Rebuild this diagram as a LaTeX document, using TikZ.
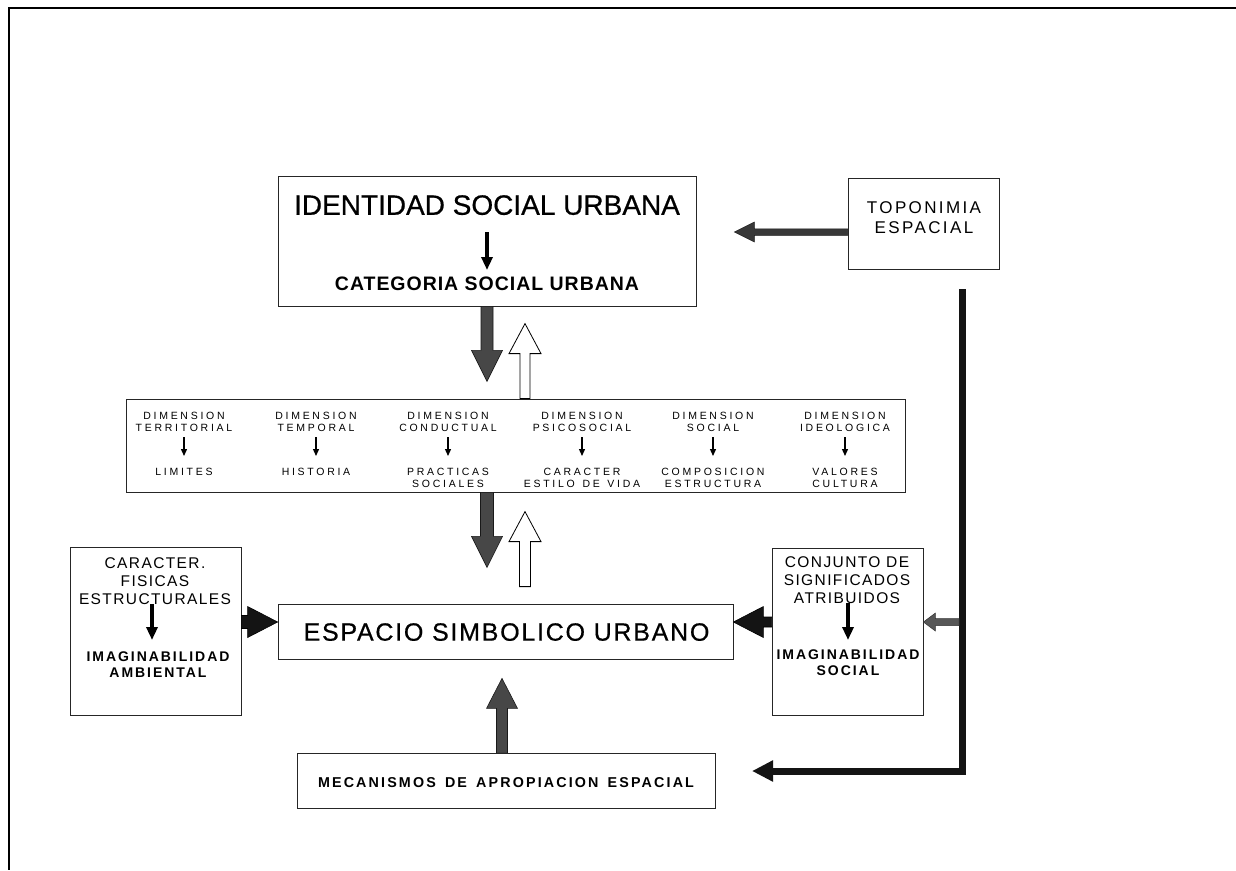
\documentclass[tikz,border=0pt]{standalone}
\usepackage{fontspec}
\setmainfont{Liberation Sans}
\newfontfamily\fIdent[FakeBold=0.6]{Liberation Sans}
\newfontfamily\fCat[LetterSpace=5]{Liberation Sans}
\newfontfamily\fTop[LetterSpace=14]{Liberation Sans}
\newfontfamily\fDim[LetterSpace=26,WordSpace=1.35]{Liberation Sans}
\newfontfamily\fSide[LetterSpace=9]{Liberation Sans}
\newfontfamily\fSideB[LetterSpace=14]{Liberation Sans}
\newfontfamily\fEsp[LetterSpace=7,FakeBold=0.6]{Liberation Sans}
\newfontfamily\fMec[LetterSpace=15,WordSpace=1.5]{Liberation Sans}
\usetikzlibrary{calc,arrows.meta}

% block arrow: [style]{from}{to}{shaft width}{head width}{head length}
\newcommand\blockarrow[6][]{%
  \path[#1] let \p1=#2, \p2=#3, \n1={atan2(\y2-\y1,\x2-\x1)}, \n2={veclen(\x2-\x1,\y2-\y1)} in
  [shift={(\p1)}, rotate=\n1]
  (0,{#4/2}) -- ({\n2-#6},{#4/2}) -- ({\n2-#6},{#5/2}) -- (\n2,0) -- ({\n2-#6},{-#5/2}) -- ({\n2-#6},{-#4/2}) -- (0,{-#4/2}) -- cycle;}

\begin{document}
\begin{tikzpicture}[x=1pt,y=-1pt,
  panel/.style={draw=black!85, line width=0.8pt, fill=white, inner sep=0pt},
  txt/.style={inner sep=0pt, align=center, anchor=north},
  dimtxt/.style={txt, font=\fDim\fontsize{10.5}{12}\selectfont},
  sidetxt/.style={txt, font=\fSide\fontsize{15.5}{18}\selectfont},
  sidetxtb/.style={txt, font=\fSideB\bfseries\fontsize{14}{16}\selectfont},
  toptxt/.style={txt, font=\fTop\fontsize{17}{20}\selectfont},
  smallarrow/.style={draw=black, line width=3.2pt, -{Triangle[width=11pt,length=13pt]}},
  tinyarrow/.style={draw=black, line width=1.3pt, -{Triangle[width=6pt,length=7pt]}},
  darkarr/.style={fill=black!72, draw=black!90, line width=0.6pt},
  blackarr/.style={fill=black!92, draw=black, line width=0.6pt},
  hollowarr/.style={fill=white, draw=black, line width=0.8pt},
  grayarr/.style={fill=black!66, draw=black!80, line width=0.5pt},
  topoarr/.style={fill=black!78, draw=black!90, line width=0.5pt},
  bigline/.style={draw=black!92, line width=7pt, -{Triangle[width=20pt,length=21pt]}},
  framelines/.style={draw=black, line width=2pt}
]
\useasboundingbox[fill=white] (0,0) rectangle (1236,870);

% frame
\draw[framelines] (1236,8) -- (9,8) -- (9,870);

% boxes
\node[panel, minimum width=418pt, minimum height=130pt] (id) at (487,241) {};
\node[panel, minimum width=151pt, minimum height=91pt] (topo) at (923.5,223.5) {};
\node[panel, minimum width=779pt, minimum height=93pt] (dims) at (515.5,445.5) {};
\node[panel, minimum width=455pt, minimum height=55pt] (esp) at (505.5,631.5) {};
\node[panel, minimum width=171pt, minimum height=168pt] (left) at (155.5,631) {};
\node[panel, minimum width=151pt, minimum height=167pt] (right) at (847.5,631.5) {};
\node[panel, minimum width=418pt, minimum height=55pt] (mec) at (506,780.5) {};

% texts
\node[txt, font=\fIdent\fontsize{28}{30}\selectfont] (idt) at (487,195) {IDENTIDAD SOCIAL URBANA};
\node[txt, font=\fCat\bfseries\fontsize{19.5}{22}\selectfont] (cat) at (487,277) {CATEGORIA SOCIAL URBANA};
\draw[smallarrow] ($(idt.south)+(0,17)$) -- ($(cat.north)+(0,-7)$);

\node[toptxt] (tt) at (924,201) {TOPONIMIA\\ESPACIAL};

\foreach \i/\cx/\ta/\tb in {1/184/{DIMENSION\\TERRITORIAL}/{LIMITES},
  2/316/{DIMENSION\\TEMPORAL}/{HISTORIA},
  3/448/{DIMENSION\\CONDUCTUAL}/{PRACTICAS\\SOCIALES},
  4/582/{DIMENSION\\PSICOSOCIAL}/{CARACTER\\ESTILO DE VIDA},
  5/713/{DIMENSION\\SOCIAL}/{COMPOSICION\\ESTRUCTURA},
  6/845/{DIMENSION\\IDEOLOGICA}/{VALORES\\CULTURA}}{
  \node[dimtxt] (dt\i) at (\cx,411.5) {\ta};
  \node[dimtxt] (db\i) at (\cx,467.5) {\tb};
  \draw[tinyarrow] ($(dt\i.south)+(0,6)$) -- ($(db\i.north)+(0,-11.5)$);
}

\node[txt, font=\fEsp\fontsize{25}{28}\selectfont] (et) at (506.5,623) {ESPACIO SIMBOLICO URBANO};

\node[sidetxt] (lt) at (155,557.5) {CARACTER.\\FISICAS\\ESTRUCTURALES};
\node[sidetxtb] (lb) at (158,652) {IMAGINABILIDAD\\AMBIENTAL};
\draw[smallarrow] ($(lt.south)+(-3,-1)$) -- ($(lb.north)+(-6,-12)$);

\node[sidetxt] (rt) at (847,556.5) {CONJUNTO DE\\SIGNIFICADOS\\ATRIBUIDOS};
\node[sidetxtb] (rb) at (848,650) {IMAGINABILIDAD\\SOCIAL};
\draw[smallarrow] ($(rt.south)+(1,-1)$) -- ($(rb.north)+(0,-10)$);

\node[txt, font=\fMec\bfseries\fontsize{14.3}{16}\selectfont] (mt) at (506,777) {MECANISMOS DE APROPIACION ESPACIAL};

% connectors
\blockarrow[topoarr]{(topo.west |- 0,232)}{($(id.east |- 0,232)+(38,0)$)}{6.5}{20}{20}
\blockarrow[darkarr]{(id.south)}{($(id.south)+(0,75)$)}{12}{31}{31}
\blockarrow[hollowarr]{($(dims.north)+(9.5,0)$)}{($(dims.north)+(9.5,-75)$)}{10}{32}{30}
\blockarrow[darkarr]{($(dims.south)+(-28.5,0)$)}{($(dims.south)+(-28.5,75)$)}{13}{31}{31}
\blockarrow[hollowarr]{($(esp.north)+(19.5,-17)$)}{($(esp.north)+(19.5,-92)$)}{11}{32}{30}
\blockarrow[blackarr]{($(left.east)+(0,-9)$)}{($(esp.west)+(0,-9.5)$)}{13}{31}{30}
\blockarrow[blackarr]{($(right.west)+(0,-9.5)$)}{($(esp.east)+(0,-9.5)$)}{10}{31}{30}
\blockarrow[darkarr]{($(mec.north)+(-4,0)$)}{($(esp.south)+(-3.5,19)$)}{11}{31}{30}

\coordinate (ltop) at (962,289);
\coordinate (lend) at (752,771);
\draw[bigline] (ltop) |- (lend);
\coordinate (lmid) at (959,622);
\blockarrow[grayarr]{(lmid)}{(right.east |- lmid)}{7}{18}{12}
\end{tikzpicture}
\end{document}
